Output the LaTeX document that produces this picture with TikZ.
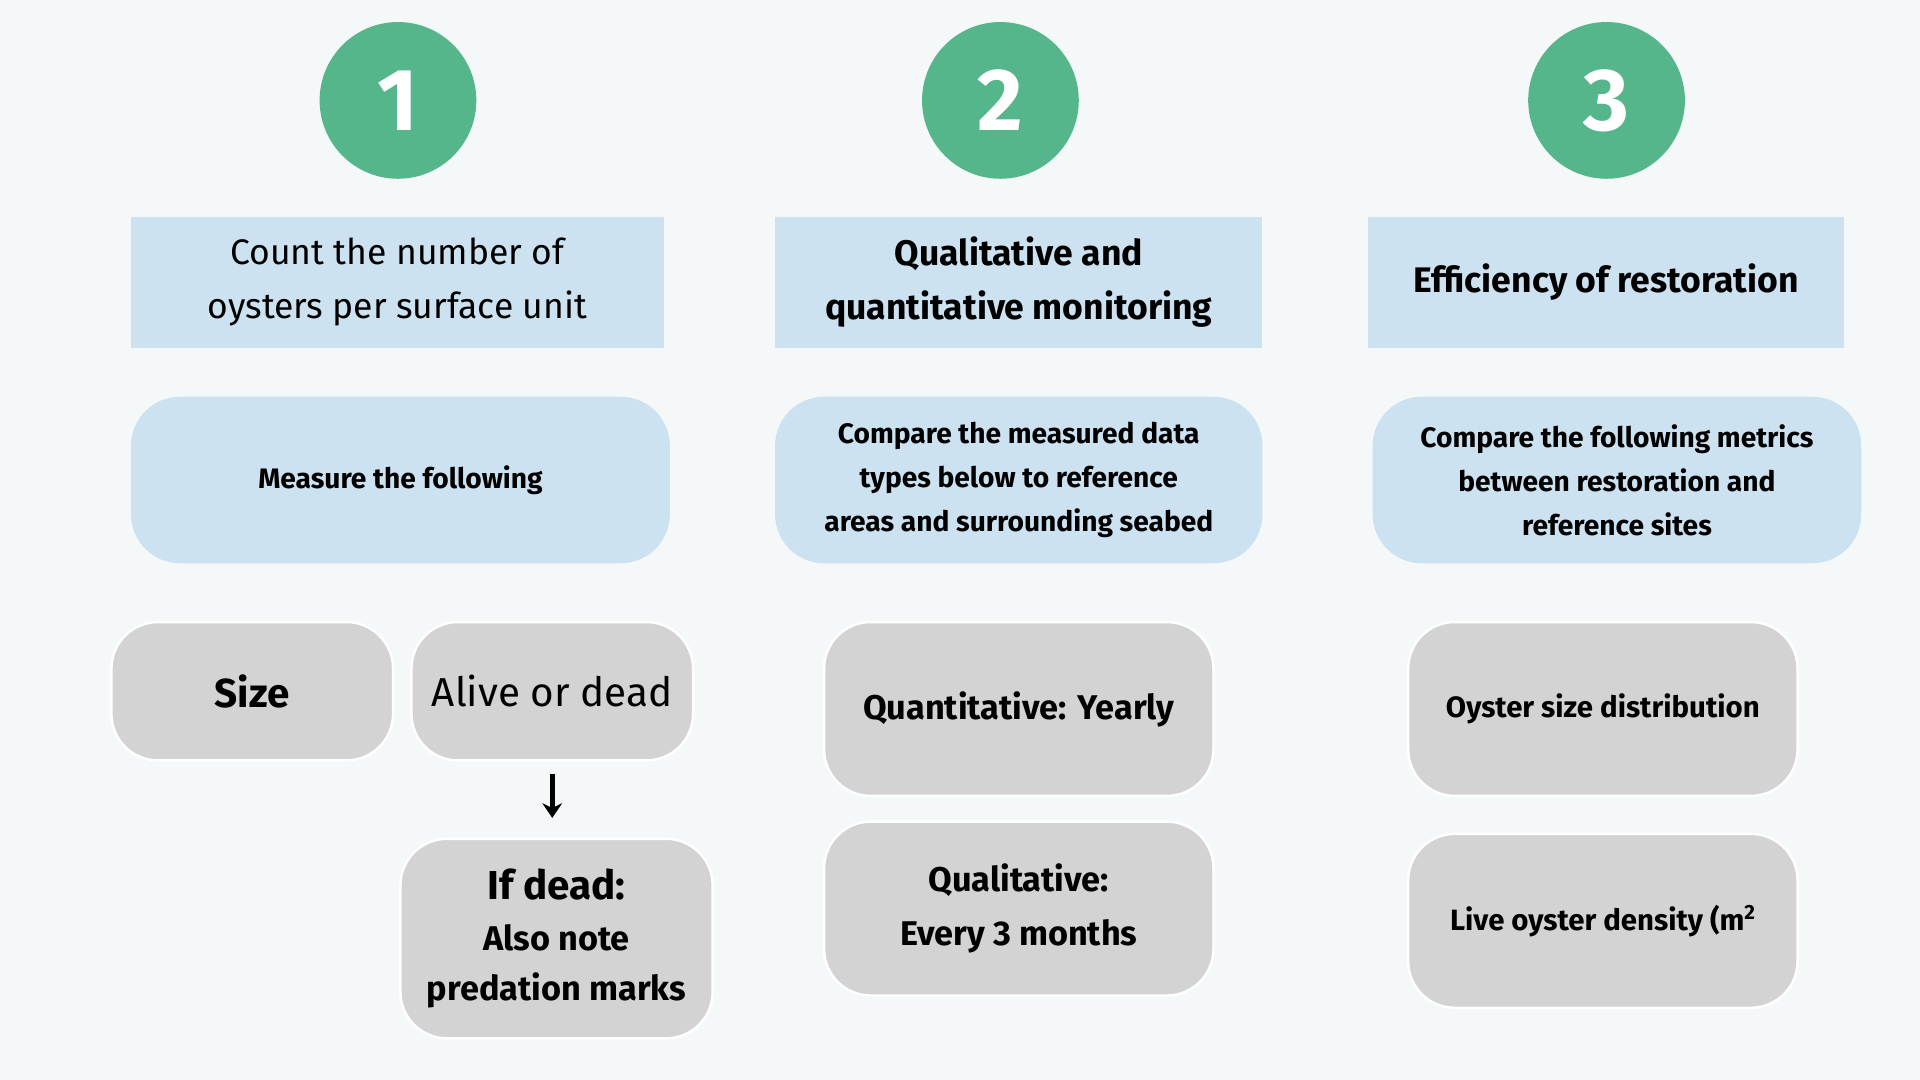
\documentclass[tikz,border=0pt]{standalone}
\usepackage{fontspec}
\setmainfont{Fira Sans}
\usetikzlibrary{arrows.meta}
\begin{document}
\begin{tikzpicture}[x=1pt,y=-1pt,
  num/.style={circle,fill=grn,minimum size=128pt,inner sep=0pt,text=white,font=\fontsize{72}{72}\selectfont\bfseries},
  head/.style={fill=lblue,inner sep=0pt,align=center,font=\fontsize{29}{44}\selectfont},
  sub/.style={fill=lblue,rounded corners=40pt,inner sep=0pt,align=center,font=\fontsize{23}{36}\selectfont\bfseries},
  gbox/.style={fill=gry,draw=white,line width=2pt,rounded corners=38pt,inner sep=0pt,align=center}]
\definecolor{grn}{HTML}{56B68B}
\definecolor{lblue}{HTML}{CCE2F0}
\definecolor{gry}{HTML}{D3D3D3}
\definecolor{bg}{HTML}{F4F8F9}
\fill[bg] (0,0) rectangle (1568,882);
\useasboundingbox (0,0) rectangle (1568,882);
\node[num] (c1) at (325,82) {1};
\node[num] (c2) at (817,82) {2};
\node[num] (c3) at (1312,82) {3};
\node[head,minimum width=435pt,minimum height=107pt] (h1) at (324.5,230.5) {Count the number of\\oysters per surface unit};
\node[head,minimum width=398pt,minimum height=107pt,font=\fontsize{29}{44}\selectfont\bfseries] (h2) at (832,230.5) {Qualitative and\\quantitative monitoring};
\node[head,minimum width=389pt,minimum height=107pt,font=\fontsize{29}{44}\selectfont\bfseries] (h3) at (1311.5,230.5) {Efficiency of restoration};
\node[sub,minimum width=440pt,minimum height=136pt] (s1) at (327,392) {Measure the following};
\node[sub,minimum width=398pt,minimum height=136pt] (s2) at (832,392) {Compare the measured data\\types below to reference\\areas and surrounding seabed};
\node[sub,minimum width=399pt,minimum height=136pt] (s3) at (1320.5,392) {Compare the following metrics\\between restoration and\\reference sites};
\node[gbox,minimum width=230pt,minimum height=113pt,font=\fontsize{33}{40}\selectfont\bfseries] (g1) at (206,564.5) {Size};
\node[gbox,minimum width=230pt,minimum height=113pt,font=\fontsize{33}{40}\selectfont] (g2) at (451,564.5) {Alive or dead};
\node[gbox,minimum width=255pt,minimum height=163pt,font=\fontsize{28}{41}\selectfont\bfseries] (g3) at (454.5,766.5) {{\fontsize{33}{41}\selectfont If dead:}\\Also note\\predation marks};
\node[gbox,minimum width=318pt,minimum height=142pt,font=\fontsize{28}{44}\selectfont\bfseries] (g4) at (832,579) {Quantitative: Yearly};
\node[gbox,minimum width=318pt,minimum height=142pt,font=\fontsize{28}{44}\selectfont\bfseries] (g5) at (832,742) {Qualitative:\\Every 3 months};
\node[gbox,minimum width=318pt,minimum height=142pt,font=\fontsize{24}{36}\selectfont\bfseries] (g6) at (1309,579) {Oyster size distribution};
\node[gbox,minimum width=318pt,minimum height=142pt,font=\fontsize{24}{36}\selectfont\bfseries] (g7) at (1309,752) {Live oyster density (m\textsuperscript{2}};
\coordinate (a1) at (451,632);
\draw[line width=4pt,-{Stealth[length=12pt,width=16pt]}] (a1) -- ([yshift=16pt]g3.north -| a1);
\end{tikzpicture}
\end{document}
